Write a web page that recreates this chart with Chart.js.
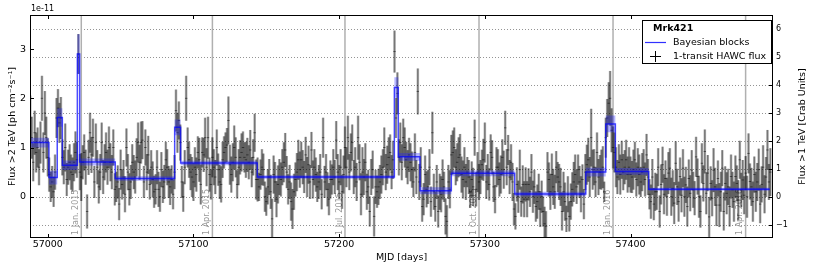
<!DOCTYPE html>
<html>
<head>
<meta charset="utf-8">
<title>Mrk421 HAWC light curve</title>
<script src="https://cdn.jsdelivr.net/npm/chart.js@4.4.1/dist/chart.umd.min.js"></script>
<style>
  html, body { margin: 0; padding: 0; background: #fff; }
  #wrap { width: 814px; height: 271px; position: relative; }
</style>
</head>
<body>
<div id="wrap"><canvas id="lightCurve"></canvas></div>
<script>
// daily fluxes >2 TeV in units of 1e-11 ph cm^-2 s^-1, one entry per day from firstDay
const firstDay = 56988;
const flux = [
  1.6, 1.2, 0.7, 1.3, 0.9, 1.0, 0.6, 1.1, 2.0, 0.9,          // 56988
  1.7, 1.2, 0.8, 0.45, 0.2, 0.3, 0.1, 0.5, 1.6, 1.8,         // 56998
  1.5, 1.6, 0.8, 0.6, 1.0, 0.35, 0.6, 0.7, 0.5, 0.45,        // 57008
  0.7, 0.9, 0.75, 2.9, 0.5, 0.4, 0.7, 0.9, 0.6, -0.3,        // 57018
  0.8, 1.3, 0.85, 1.2, 0.3, 1.1, 0.6, 0.2, 0.5, 1.1,         // 57028
  0.4, 0.7, 0.9, 0.6, 1.0, 0.7, 0.5, 1.0, 0.15, 0.2,         // 57038
  0.3, -0.15, 0.55, 0.25, 0.4, 0.05, 1.0, 0.5, 0.15, 0.3,    // 57048
  0.7, 0.5, 0.4, 0.8, 1.1, 0.7, 1.1, 1.15, 0.3, 1.0,         // 57058
  0.5, 0.85, 0.25, 0.6, 0.35, 0.1, 0.15, 0.6, 0.15, 0.0,     // 57068
  0.55, 0.2, 0.3, 0.75, 0.6, 0.3, 0.2, 0.35, 0.05, 0.5,      // 57078
  1.75, 1.3, 1.55, 1.1, 0.3, 0.0, 0.6, 2.0, 1.0, 0.75,       // 57088
  0.5, 0.4, 0.3, 0.6, 0.45, 0.9, 0.75, 0.25, 0.9, 0.85,      // 57098
  1.2, 0.6, 1.2, 0.45, 0.25, 0.8, 0.6, 0.4, 1.0, 0.55,       // 57108
  0.3, 0.25, 0.75, 0.9, 1.0, 1.05, 1.55, 0.65, 0.45, 0.7,    // 57118
  1.0, 0.8, 0.25, 0.6, 0.8, 0.9, 1.0, 0.8, 0.75, 0.85,       // 57128
  0.7, 0.95, 0.5, 0.8, 1.3, 0.35, 0.35, 0.2, 0.45, 0.6,      // 57138
  0.55, 0.0, -0.1, 0.2, 0.4, 0.1, -0.45, 0.45, 0.3, -0.05,   // 57148
  0.25, 0.4, 0.35, 0.6, 0.7, 0.95, 0.5, 0.15, 0.3, -0.1,     // 57158
  -0.25, 0.1, 0.35, 0.5, 0.75, 0.55, 0.75, 0.6, 0.4, 0.85,   // 57168
  0.4, 0.65, 0.3, 0.95, 0.35, 0.6, 0.45, 0.2, 0.3, 0.5,      // 57178
  0.05, 1.2, 0.3, 0.5, 0.15, -0.05, 0.35, 0.35, 0.6, 0.4,    // 57188
  1.15, 0.5, 0.3, 0.6, 0.1, 0.45, 1.0, 0.6, 1.2, 0.5,        // 57198
  0.9, 1.1, 0.4, 0.6, 0.3, 1.2, 0.7, 0.05, 0.5, 0.4,         // 57208
  0.7, 0.1, 0.2, -0.3, 0.4, 0.55, -0.4, 0.2, 0.1, 0.2,       // 57218
  0.3, 0.45, 0.6, 1.0, 0.5, 0.65, 0.8, 0.9, 0.5, 0.75,       // 57228
  2.95, 1.6, 2.1, 0.8, 1.1, 0.7, 1.2, 1.0, 0.75, 0.6,        // 57238
  0.85, 0.7, 0.55, 0.3, 0.9, 0.4, 2.14, 0.3, 0.6, -0.2,      // 57248
  -0.05, 0.45, 0.15, 0.2, 0.6, -0.1, 1.3, 0.1, -0.2, 0.3,    // 57258
  -0.3, 0.1, 0.05, 0.35, 0.2, -0.4, -0.5, 0.3, 0.15, 0.85,   // 57268
  0.9, 1.0, 0.6, 0.7, 0.8, 0.85, 0.45, 0.35, 0.6, 0.3,       // 57278
  0.5, 0.4, 0.1, 0.35, 0.2, 1.2, 0.15, 0.5, 0.3, 0.4,        // 57288
  0.65, 0.75, 1.1, 0.3, 0.5, 0.25, 0.9, 0.8, 0.2, -0.05,     // 57298
  0.6, 0.6, 0.35, 0.45, 0.8, 0.55, 1.4, 0.6, 0.95, 0.4,      // 57308
  0.7, 0.3, -0.25, -0.4, 0.25, 0.0, 0.55, -0.1, 0.25, -0.05, // 57318
  0.25, -0.05, 0.25, 0.1, 0.5, 0.0, 0.2, -0.2, -0.1, 0.1,    // 57328
  -0.25, 0.0, -0.3, -0.55, -0.6, 0.5, 0.35, 0.1, 0.45, 0.2,  // 57338
  0.1, 0.6, 0.4, 0.3, 0.2, -0.3, 0.1, -0.1, -0.45, 0.05,     // 57348
  -0.4, -0.1, 0.15, 0.3, 0.45, 0.2, 0.55, 0.3, 0.05, 0.35,   // 57358
  -0.15, 0.5, 0.65, 0.75, 0.4, 1.2, 0.55, 0.6, 0.3, 0.9,     // 57368
  0.4, 0.5, 0.55, 0.6, 0.1, 1.2, 1.6, 1.9, 2.0, 1.35,        // 57378
  1.0, 0.9, 0.6, 0.4, 0.7, 0.45, 0.75, 0.5, 0.6, 0.75,       // 57388
  0.45, 0.6, 0.45, 0.4, 0.55, 0.75, 0.35, 0.6, 0.45, 0.3,    // 57398
  0.5, 0.6, 0.35, 0.85, 0.4, 0.05, -0.1, 0.4, -0.15, 0.1,    // 57408
  0.1, 0.6, -0.3, 0.25, 0.65, 0.05, 0.37, 0.0, 0.48, 0.58,   // 57418
  0.0, 0.17, -0.13, 0.68, 0.2, -0.1, 0.41, 0.03, 0.58, 0.0,  // 57428
  0.24, -0.2, 0.37, 0.07, 0.54, 0.14, -0.03, 0.81, 0.41, 0.0, // 57438
  -0.3, 0.68, 0.27, 0.92, 0.07, 0.48, -0.41, 0.27, -0.03, 0.54, // 57448
  0.2, -0.17, 0.37, -0.17, 0.1, 0.58, -0.3, 0.27, 0.07, 0.2, // 57458
  -0.2, 0.41, 0.14, -0.1, 0.41, 0.27, -0.07, 0.75, 0.14, 0.34, // 57468
  0.03, 0.48, 0.0, 0.88, 0.31, 0.2, -0.1, 0.45, 0.1, 0.3,    // 57478
  0.55, -0.15, 0.25, 0.6, 0.05, 0.4, 0.95, 0.3, 0.5          // 57488
];

// 1-sigma errors, in 0.01e-11 ph cm^-2 s^-1, same order as flux
const fluxErr = [
  45, 42, 38, 44, 40, 40, 36, 42, 45, 40,
  44, 42, 38, 34, 30, 32, 30, 35, 40, 38,
  40, 42, 36, 34, 48, 33, 35, 36, 35, 34,
  38, 42, 36, 40, 36, 48, 34, 36, 35, 34,
  35, 40, 36, 38, 32, 38, 34, 33, 36, 40,
  34, 36, 40, 35, 42, 38, 34, 36, 32, 30,
  33, 32, 40, 30, 34, 36, 38, 36, 32, 34,
  36, 34, 33, 38, 40, 35, 42, 38, 32, 36,
  36, 38, 30, 34, 36, 32, 30, 34, 35, 30,
  35, 32, 34, 36, 36, 32, 36, 28, 30, 34,
  42, 40, 38, 36, 32, 30, 34, 45, 40, 36,
  36, 40, 38, 40, 34, 32, 44, 40, 30, 34,
  40, 38, 42, 34, 30, 40, 36, 34, 36, 32,
  34, 36, 36, 32, 30, 34, 48, 40, 36, 38,
  44, 40, 28, 36, 34, 38, 32, 30, 36, 34,
  34, 40, 30, 36, 38, 40, 44, 28, 30, 36,
  32, 30, 28, 35, 36, 34, 40, 38, 40, 36,
  38, 36, 34, 36, 40, 34, 32, 30, 34, 38,
  40, 36, 34, 38, 40, 36, 36, 34, 32, 36,
  40, 38, 34, 36, 38, 36, 34, 30, 34, 36,
  30, 40, 32, 36, 34, 32, 38, 30, 36, 34,
  38, 36, 34, 36, 34, 38, 42, 40, 44, 36,
  38, 36, 34, 40, 38, 44, 36, 42, 50, 36,
  38, 36, 34, 30, 36, 38, 40, 34, 32, 36,
  34, 38, 36, 40, 36, 38, 40, 36, 34, 38,
  42, 40, 42, 36, 40, 36, 38, 40, 36, 34,
  34, 38, 36, 30, 38, 34, 46, 36, 40, 30,
  32, 38, 36, 34, 36, 30, 42, 36, 30, 34,
  32, 36, 36, 40, 30, 36, 32, 34, 38, 40,
  44, 40, 36, 38, 40, 42, 36, 38, 40, 36,
  30, 34, 32, 36, 38, 36, 34, 40, 36, 34,
  30, 42, 40, 34, 36, 32, 36, 34, 30, 28,
  40, 36, 34, 38, 36, 38, 34, 36, 30, 34,
  36, 38, 32, 26, 34, 32, 40, 30, 38, 36,
  34, 36, 32, 30, 36, 32, 34, 30, 34, 36,
  36, 32, 30, 34, 30, 40, 34, 36, 42, 36,
  34, 32, 30, 36, 38, 38, 40, 38, 26, 36,
  30, 36, 34, 40, 40, 34, 30, 32, 36, 30,
  30, 36, 40, 44, 40, 58, 40, 36, 30, 40,
  36, 34, 40, 42, 20, 40, 38, 42, 55, 44,
  42, 40, 40, 34, 36, 40, 38, 36, 34, 40,
  36, 40, 36, 32, 40, 36, 34, 38, 40, 30,
  38, 36, 34, 42, 36, 30, 34, 36, 32, 38,
  36, 38, 32, 40, 36, 40, 36, 38, 42, 40,
  38, 36, 42, 44, 36, 40, 38, 34, 38, 40,
  36, 40, 38, 36, 40, 36, 34, 40, 36, 42,
  32, 40, 36, 44, 42, 36, 40, 34, 36, 44,
  38, 42, 36, 44, 40, 36, 38, 34, 42, 36,
  40, 44, 36, 40, 42, 36, 40, 38, 34, 40,
  38, 34, 42, 40, 36, 38, 40, 36, 40, 38,
  42, 38, 36, 44, 38, 40, 40, 36, 48
];

// Bayesian blocks: edges (MJD), block flux and its uncertainty (1e-11)
const blockEdges = [56988.3, 57000.8, 57006.5, 57010.0, 57020.3, 57021.9, 57046.3, 57087.1,
  57091.2, 57143.8, 57237.9, 57240.6, 57255.5, 57277.0, 57320.5, 57369.3, 57383.0, 57389.6,
  57412.5, 57495.6];
const blockFlux = [1.10, 0.39, 1.61, 0.64, 2.90, 0.705, 0.37, 1.41, 0.685, 0.40, 2.22, 0.81,
  0.12, 0.475, 0.055, 0.50, 1.48, 0.515, 0.15];
const blockErr = [0.10, 0.14, 0.19, 0.095, 0.40, 0.07, 0.045, 0.16, 0.045, 0.035, 0.21, 0.08,
  0.07, 0.06, 0.045, 0.09, 0.17, 0.07, 0.03];

const dateMarks = [57023, 57113, 57204, 57296, 57388, 57479];
const dateLabels = ['1 Jan. 2015', '1 Apr. 2015', '1 Jul. 2015', '1 Oct. 2015', '1 Jan. 2016', '1 Apr. 2016'];

const xTicks = [57000, 57100, 57200, 57300, 57400];
const fluxTicks = [0, 1, 2, 3];
const crabTicks = [-1, 0, 1, 2, 3, 4, 5, 6];

const xMin = 56987.8, xMax = 57497.8;
const yMin = -0.839, yMax = 3.693;
const crabUnit = 0.567; // 1 Crab (>1 TeV) expressed on the left axis

const FONT = '"DejaVu Sans", "Liberation Sans", sans-serif';
Chart.defaults.font.family = FONT;
Chart.defaults.color = '#000';

const points = [];
flux.forEach((v, i) => {
    if (v === null) return;
    const e = fluxErr[i] / 100;
    points.push({ x: firstDay + i, v: v, lo: v - e, hi: v + e });
});

function blockSteps(offset) {
    const pts = blockFlux.map((v, i) => ({ x: blockEdges[i], y: v + offset * blockErr[i] }));
    const last = blockFlux.length - 1;
    pts.push({ x: blockEdges[last + 1], y: blockFlux[last] + offset * blockErr[last] });
    return pts;
}

const decorations = {
    id: 'decorations',
    beforeDatasetsDraw(chart) {
        const { ctx, chartArea: a, scales: { x, y2 } } = chart;
        ctx.save();
        // dotted grid on the Crab scale
        ctx.strokeStyle = 'rgba(0,0,0,0.42)';
        ctx.lineWidth = 1;
        ctx.setLineDash([1, 2]);
        ctx.beginPath();
        crabTicks.forEach(v => {
            const py = Math.round(y2.getPixelForValue(v)) + 0.5;
            ctx.moveTo(a.left, py);
            ctx.lineTo(a.right, py);
        });
        ctx.stroke();
        ctx.setLineDash([]);

        // calendar markers
        ctx.strokeStyle = '#b0b0b0';
        ctx.lineWidth = 1.5;
        ctx.fillStyle = '#999';
        ctx.font = '8px ' + FONT;
        ctx.textBaseline = 'middle';
        ctx.textAlign = 'left';
        dateMarks.forEach((d, i) => {
            const px = x.getPixelForValue(d);
            ctx.beginPath();
            ctx.moveTo(px, a.top);
            ctx.lineTo(px, a.bottom);
            ctx.stroke();
            ctx.save();
            ctx.translate(px - 5.5, a.bottom - 3);
            ctx.rotate(-Math.PI / 2);
            ctx.fillText(dateLabels[i], 0, 0);
            ctx.restore();
        });
        ctx.restore();
    },
    afterDraw(chart) {
        const { ctx, chartArea: a, scales: { x, y, y2 } } = chart;
        ctx.save();
        ctx.strokeStyle = '#000';
        ctx.lineWidth = 1;

        // inward ticks
        ctx.beginPath();
        xTicks.forEach(v => {
            const px = Math.round(x.getPixelForValue(v)) + 0.5;
            ctx.moveTo(px, a.bottom); ctx.lineTo(px, a.bottom - 4);
            ctx.moveTo(px, a.top); ctx.lineTo(px, a.top + 4);
        });
        fluxTicks.forEach(v => {
            const py = Math.round(y.getPixelForValue(v)) + 0.5;
            ctx.moveTo(a.left, py); ctx.lineTo(a.left + 4, py);
        });
        crabTicks.forEach(v => {
            const py = Math.round(y2.getPixelForValue(v)) + 0.5;
            ctx.moveTo(a.right, py); ctx.lineTo(a.right - 4, py);
        });
        ctx.stroke();

        // frame
        ctx.strokeRect(a.left + 0.5, a.top + 0.5, a.right - a.left - 1, a.bottom - a.top - 1);

        // offset text
        ctx.fillStyle = '#000';
        ctx.font = '8px ' + FONT;
        ctx.textAlign = 'left';
        ctx.textBaseline = 'middle';
        ctx.fillText('1e-11', a.left + 1, 9);

        // axis titles
        ctx.font = '9.5px ' + FONT;
        ctx.textAlign = 'center';
        ctx.fillText('MJD [days]', (a.left + a.right) / 2, 258);
        const midY = (a.top + a.bottom) / 2;
        ctx.save();
        ctx.translate(13, midY);
        ctx.rotate(-Math.PI / 2);
        ctx.fillText('Flux >2 TeV [ph cm\u207B\u00B2s\u207B\u00B9]', 0, 0);
        ctx.restore();
        ctx.save();
        ctx.translate(803, midY);
        ctx.rotate(-Math.PI / 2);
        ctx.fillText('Flux >1 TeV [Crab Units]', 0, 0);
        ctx.restore();

        // legend
        const lx = 642, ly = 20, lw = 130, lh = 44;
        ctx.fillStyle = '#fff';
        ctx.fillRect(lx, ly, lw, lh);
        ctx.strokeRect(lx + 0.5, ly + 0.5, lw - 1, lh - 1);
        ctx.fillStyle = '#000';
        ctx.textAlign = 'left';
        ctx.font = 'bold 9.5px ' + FONT;
        ctx.fillText('Mrk421', 653, 28.5);
        ctx.font = '9.5px ' + FONT;
        ctx.fillText('Bayesian blocks', 673, 42.5);
        ctx.fillText('1-transit HAWC flux', 673, 56.5);
        ctx.strokeStyle = '#3030ff';
        ctx.lineWidth = 1.2;
        ctx.beginPath();
        ctx.moveTo(645, 42.5); ctx.lineTo(666, 42.5);
        ctx.stroke();
        ctx.strokeStyle = '#000';
        ctx.lineWidth = 1;
        ctx.beginPath();
        ctx.moveTo(650, 56.5); ctx.lineTo(661, 56.5);
        ctx.moveTo(655.5, 51); ctx.lineTo(655.5, 62);
        ctx.stroke();
        ctx.restore();
    }
};

const ctx = document.getElementById('lightCurve').getContext('2d');
new Chart(ctx, {
    type: 'bar',
    data: {
        datasets: [
            {
                type: 'line',
                label: 'Bayesian blocks',
                data: blockSteps(0),
                stepped: 'before',
                borderColor: 'rgba(0,0,255,0.7)',
                borderWidth: 1.5,
                pointRadius: 0,
                fill: false,
                order: 1
            },
            {
                type: 'line',
                label: 'block upper',
                data: blockSteps(1),
                stepped: 'before',
                borderWidth: 0,
                borderColor: 'rgba(0,0,0,0)',
                pointRadius: 0,
                fill: false,
                order: 2
            },
            {
                type: 'line',
                label: 'block lower',
                data: blockSteps(-1),
                stepped: 'before',
                borderWidth: 0,
                borderColor: 'rgba(0,0,0,0)',
                backgroundColor: 'rgba(30,30,255,0.33)',
                pointRadius: 0,
                fill: '-1',
                order: 2
            },
            {
                type: 'line',
                label: 'centres',
                data: points.map(p => ({ x: p.x, y: p.v })),
                showLine: false,
                pointStyle: 'line',
                pointRadius: 1.2,
                pointBorderWidth: 1,
                pointBorderColor: 'rgba(0,0,0,0.5)',
                order: 3
            },
            {
                label: '1-transit HAWC flux',
                data: points.map(p => ({ x: p.x, y: [p.lo, p.hi] })),
                backgroundColor: 'rgba(0,0,0,0.38)',
                barThickness: 0.8,
                grouped: false,
                order: 4
            },
            {
                label: 'error band',
                data: points.map(p => ({ x: p.x, y: [p.lo, p.hi] })),
                backgroundColor: 'rgba(0,0,0,0.26)',
                barThickness: 2,
                grouped: false,
                order: 5
            }
        ]
    },
    options: {
        responsive: true,
        maintainAspectRatio: false,
        devicePixelRatio: 1,
        animation: false,
        layout: { padding: { top: 15, left: 0, right: 0, bottom: 0 } },
        plugins: {
            legend: { display: false },
            tooltip: { enabled: false }
        },
        scales: {
            x: {
                type: 'linear',
                min: xMin,
                max: xMax,
                offset: false,
                grid: { display: false, drawTicks: false },
                border: { display: false },
                afterBuildTicks: s => { s.ticks = xTicks.map(v => ({ value: v })); },
                afterFit: s => { s.height = 33; },
                ticks: {
                    padding: 1,
                    maxRotation: 0,
                    font: { size: 9.5 },
                    callback: v => String(v)
                }
            },
            y: {
                position: 'left',
                min: yMin,
                max: yMax,
                grid: { display: false, drawTicks: false },
                border: { display: false },
                afterBuildTicks: s => { s.ticks = fluxTicks.map(v => ({ value: v })); },
                afterFit: s => { s.width = 30; },
                ticks: { padding: 4, font: { size: 9.5 }, callback: v => String(v) }
            },
            y2: {
                position: 'right',
                display: true,
                min: yMin / crabUnit,
                max: yMax / crabUnit,
                grid: { display: false, drawTicks: false },
                border: { display: false },
                afterBuildTicks: s => { s.ticks = crabTicks.map(v => ({ value: v })); },
                afterFit: s => { s.width = 41; },
                ticks: {
                    padding: 3,
                    font: { size: 8 },
                    callback: v => (v < 0 ? '\u2212' + Math.abs(v) : String(v))
                }
            }
        }
    },
    plugins: [decorations]
});
</script>
</body>
</html>
